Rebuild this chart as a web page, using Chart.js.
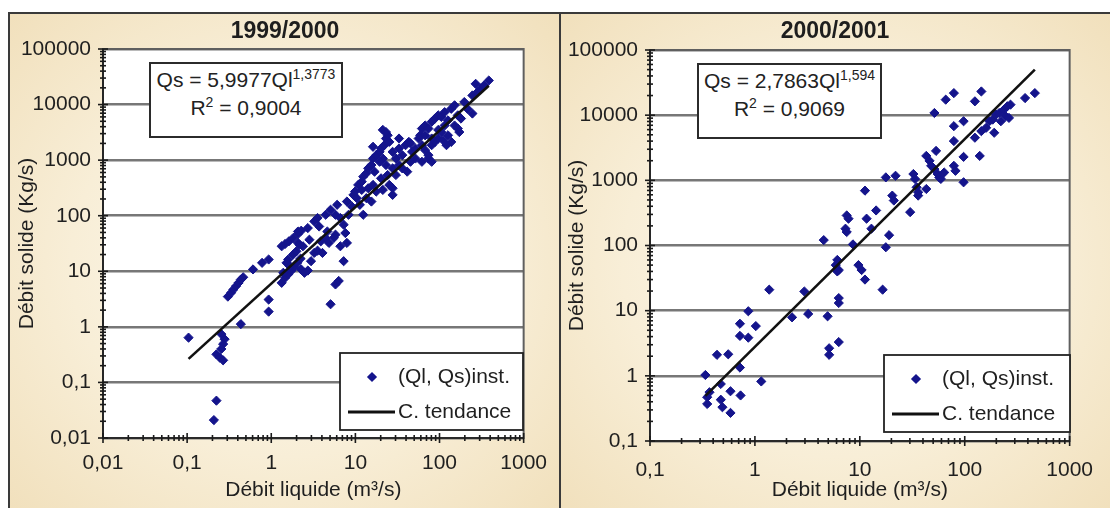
<!DOCTYPE html>
<html lang="fr">
<head>
<meta charset="utf-8">
<title>Débit solide en fonction du débit liquide</title>
<script src="https://cdn.jsdelivr.net/npm/chart.js@4.4.1/dist/chart.umd.min.js"></script>
<style>
  html, body { margin: 0; padding: 0; }
  body { width: 1110px; height: 508px; position: relative; overflow: hidden; background: #fff;
         font-family: "Liberation Sans", Arial, Helvetica, sans-serif; color: #222; }
  .panel { position: absolute; top: 12px; height: 500px; box-sizing: border-box;
           border-top: 2px solid #3a3a3a;
           background: radial-gradient(ellipse at center, #fdf9f0 0%, #f8eed7 55%, #f1e0bc 100%); }
  #panelA { left: 8px; width: 553px; border-left: 2px solid #3a3a3a; border-right: 2px solid #3a3a3a; }
  #panelB { left: 561px; width: 549px; }
  canvas { position: absolute; }
  #chartA { left: 9px; top: 13px; }
  #chartB { left: 560px; top: 13px; }
  .title { position: absolute; top: 16px; width: 300px; margin-left: -150px; text-align: center;
           font-weight: bold; font-size: 23px; line-height: 28px; color: #1e1e1e; }
  .eq { position: absolute; box-sizing: border-box; background: #fff; border: 2px solid #2b2b2b;
        text-align: center; font-size: 21px; line-height: 28px; padding-top: 2px; white-space: nowrap; color: #222; }
  .eq sup { font-size: 14px; vertical-align: 8px; line-height: 0; }
</style>
</head>
<body>
<div class="panel" id="panelA"></div>
<div class="panel" id="panelB"></div>
<canvas id="chartA" width="551" height="495"></canvas>
<canvas id="chartB" width="550" height="495"></canvas>
<div class="title" id="titleA" style="left:285px"></div>
<div class="title" id="titleB" style="left:835px"></div>
<div class="eq" id="eqA" style="left:149px; top:62px; width:194px; height:76px;"></div>
<div class="eq" id="eqB" style="left:697px; top:63px; width:185px; height:76px;"></div>

<script>
// ---- Season 1999/2000 ----
const saisonA = '1999/2000';
// instantaneous measurements [Ql (m3/s), Qs (kg/s)]
const mesuresA = [
  [0.104,0.64],[0.223,0.047],[0.208,0.021],
  [0.255,0.74],[0.279,0.60],[0.268,0.49],[0.255,0.40],[0.223,0.32],[0.244,0.28],[0.268,0.25],
  [0.435,1.12],
  [0.305,3.5],[0.333,4.1],[0.355,4.7],[0.381,5.4],[0.409,6.2],[0.435,7.1],[0.464,7.8],
  [0.607,10.8],[0.778,14.2],[0.931,16.3],[0.931,3.1],[0.931,1.88],
  [1.33,6.2],[1.46,7.6],[1.59,8.8],[1.74,10.3],[1.87,11.9],[2.04,14.2],[2.23,16.9],[2.27,10.8],
  [2.48,9.4],[2.72,10.3],[2.97,15.2],[1.59,16.3],[1.82,20],[1.99,22.9],[2.38,28.2],[2.08,32.4],
  [1.33,28.2],[1.46,31],[1.62,34.6],[1.82,39.7],[2.08,46.9],[2.27,53.7],[3.24,21.4],[3.55,23.5],
  [3.88,34.6],[4.44,39.7],[4.85,32.4],[5.8,45.6],[6.63,28.2],[7.93,32.4],[7.6,48.8],[5.07,2.55],
  [5.8,5.8],[6.34,6.7],[7.25,15.2],[1.52,14.2],[1.66,12.4],[1.39,9.4],
  [2.08,52],[2.17,30],[2.72,60],[2.84,37],[3.25,79],[3.55,91],[3.71,64],[4.06,21.4],[4.44,104],
  [4.64,52],[5.07,128],[5.55,40],[5.8,104],[6.07,157],[6.63,91],[7.25,69],[7.93,180],[8.29,104],
  [9.06,147],[9.48,237],[10.4,207],[11.3,157],[11.9,291],[12.4,104],[13.5,207],[14.2,312],
  [15.5,180],[16.2,358],[17.7,272],
  [9.91,272],[10.8,358],[11.9,410],[12.4,505],[13.5,578],[14.2,711],[15.5,816],[16.2,1070],
  [17.7,1230],[19.4,1410],[20.2,1620],[21.2,1070],[23.1,816],[24.2,540],[25.3,358],[27.7,237],
  [22.1,1860],[23.1,2450],[24.2,2800],[25.3,2130],[27.7,1410],[30.3,1070],[33,1620],[36.1,1230],
  [39.5,1860],[43.2,2130],[45.2,935],[47.2,1410],[51.7,1620],[56.5,2450],[59,2800],[61.8,3700],
  [67.5,4200],[27.7,711],[30.3,540],[33,816],[16.2,1740],[21.2,3500],[23.1,3200],[33,2450],
  [45.2,2000],[16.9,620],[19.4,935],[20.2,471],[21.2,291],[27.7,312],[36.1,711],[41.3,620],
  [51.7,1070],[61.8,935],[73.8,1070],[80.7,935],
  [67.5,2800],[73.8,3700],[80.7,4900],[88.3,5600],[96.6,6400],[105,6000],[115,7300],[126,5200],
  [138,8400],[151,4200],[165,3700],[172,3200],[180,5600],[80.7,1860],[88.3,2130],[96.6,2450],
  [105,3200],[126,2800],[138,2130],[197,11100],[215,8400],[246,6900],[246,14600],[282,16700],
  [308,19200],[337,22000],[385,27100],[269,23600],[151,9700],[165,6400],[115,4200],[96.6,3500],
  [110,2300],[121,1860],[80.7,2450],[61.8,1860],[67.5,1510],[73.8,1230]
];
// power trend Qs = a·Ql^b and its coefficient of determination
const coefA = 5.9977, expoA = 1.3773, r2A = 0.9004;
const trendQlA = [0.104, 385];
const xTicksA = [0.01, 0.1, 1, 10, 100, 1000];
const xLabelsA = ['0,01', '0,1', '1', '10', '100', '1000'];
const yTicksA = [0.01, 0.1, 1, 10, 100, 1000, 10000, 100000];
const yLabelsA = ['0,01', '0,1', '1', '10', '100', '1000', '10000', '100000'];

// ---- Season 2000/2001 ----
const saisonB = '2000/2001';
const mesuresB = [
  [4.53,121],[8.6,104],[6.1,60],[5.9,50],[6.3,42],[6.1,40],[9.7,50],[10.4,42],[11.2,30],[16.5,21],
  [1.37,21],[2.96,19.7],[6.3,15.6],[6.3,13.1],[0.865,9.8],[2.26,7.9],[3.22,8.9],[4.93,8.2],
  [0.72,6.3],[1.02,5.8],[0.72,4.1],[0.865,3.85],[6.3,3.3],[5.1,2.65],[5.1,2.1],[0.435,2.1],
  [0.557,2.14],[0.72,1.34],[0.337,1.03],[1.15,0.82],[0.473,0.75],[0.369,0.56],[0.351,0.47],
  [0.351,0.37],[0.585,0.58],[0.473,0.43],[0.49,0.33],[0.585,0.27],[0.73,0.50],
  [7.5,289],[7.8,258],[7.3,181],[7.5,161],[11.2,695],[11.6,258],[12.9,181],[14.3,345],[17.7,1110],
  [21.9,1175],[19,144],[17.7,94],[20.4,583],[21.1,490],[30.2,325],[32.4,1250],[33.6,1050],
  [34.8,782],[36,583],[36,656],[43,736],[43,2370],[46.2,1990],[47.9,1670],[51.4,1490],[55.2,1250],
  [57.2,1110],[59.2,1050],[53.3,2830],[63.7,1320],[78.8,1670],[81.6,1400],[97.5,933],[97.5,2290],
  [78.8,4010],[78.8,6780],[97.5,8070],[65.9,17300],[78.8,21800],[51.4,10800],[125,16300],
  [144,23100],[139,2370],[125,4510],[144,5690],[160,6400],[172,8070],[185,8570],[191,5370],
  [199,10200],[213,10800],[237,12200],[255,13700],[273,14500],[221,8070],[376,18300],[466,21800],
  [245,9640],[264,9080]
];
const coefB = 2.7863, expoB = 1.594, r2B = 0.9069;
const trendQlB = [0.337, 466];
const xTicksB = [0.1, 1, 10, 100, 1000];
const xLabelsB = ['0,1', '1', '10', '100', '1000'];
const yTicksB = [0.1, 1, 10, 100, 1000, 10000, 100000];
const yLabelsB = ['0,1', '1', '10', '100', '1000', '10000', '100000'];

// ---- shared text ----
const serieLabel = '(Ql, Qs)inst.';
const trendLabel = 'C. tendance';
const xTitle = 'Débit liquide (m³/s)';
const yTitle = 'Débit solide (Kg/s)';

const FONT = '"Liberation Sans", Arial, Helvetica, sans-serif';
const FS = 21;
const NAVY = '#14148c';
const INK = '#1f1f1f';
Chart.defaults.font.family = FONT;
Chart.defaults.color = INK;

const fr = v => String(v).replace('.', ',');
const labelFor = (values, labels) => v => {
  const i = values.findIndex(t => Math.abs(Math.log10(t) - Math.log10(v)) < 1e-6);
  return i >= 0 ? labels[i] : '';
};

// White plot area, its frame, and cross tick marks on both axes
const plotFrame = {
  id: 'plotFrame',
  beforeDraw(chart) {
    const { ctx, chartArea: a } = chart;
    ctx.save();
    ctx.fillStyle = '#ffffff';
    ctx.fillRect(a.left, a.top, a.right - a.left, a.bottom - a.top);
    ctx.restore();
  },
  beforeDatasetsDraw(chart) {
    const { ctx, chartArea: a, scales } = chart;
    ctx.save();
    ctx.strokeStyle = '#5f5f5f';
    ctx.lineWidth = 2;
    ctx.strokeRect(a.left, a.top, a.right - a.left, a.bottom - a.top);
    ctx.strokeStyle = '#1a1a1a';
    ctx.lineWidth = 1.6;
    ctx.beginPath();
    ctx.moveTo(a.left, a.top);
    ctx.lineTo(a.left, a.bottom);
    ctx.lineTo(a.right, a.bottom);
    ctx.stroke();
    const marks = (scale, horizontal) => {
      const lo = Math.floor(Math.log10(scale.min));
      const hi = Math.ceil(Math.log10(scale.max));
      for (let k = lo; k <= hi; k++) {
        for (let m = 1; m <= 9; m++) {
          const v = m * Math.pow(10, k);
          if (v < scale.min * 0.999 || v > scale.max * 1.001) continue;
          const p = scale.getPixelForValue(v);
          const h = m === 1 ? 5 : 3;
          ctx.beginPath();
          if (horizontal) { ctx.moveTo(p, a.bottom - h); ctx.lineTo(p, a.bottom + h); }
          else { ctx.moveTo(a.left - h, p); ctx.lineTo(a.left + h, p); }
          ctx.stroke();
        }
      }
    };
    marks(scales.x, true);
    marks(scales.y, false);
    ctx.restore();
  }
};

// Boxed legend in the lower right corner of the plot
const boxLegend = {
  id: 'boxLegend',
  afterDatasetsDraw(chart, args, o) {
    const { ctx } = chart;
    const [pts, trend] = chart.data.datasets;
    ctx.save();
    ctx.fillStyle = '#ffffff';
    ctx.fillRect(o.x, o.y, o.w, o.h);
    ctx.strokeStyle = '#222';
    ctx.lineWidth = 1.8;
    ctx.strokeRect(o.x, o.y, o.w, o.h);
    const r = pts.pointRadius + 0.5;
    const mx = o.x + 32, my = o.y + 24;
    ctx.fillStyle = pts.pointBackgroundColor;
    ctx.beginPath();
    ctx.moveTo(mx, my - r); ctx.lineTo(mx + r, my); ctx.lineTo(mx, my + r); ctx.lineTo(mx - r, my);
    ctx.closePath();
    ctx.fill();
    ctx.strokeStyle = trend.borderColor;
    ctx.lineWidth = 3;
    ctx.beginPath();
    ctx.moveTo(o.x + 8, o.y + 59);
    ctx.lineTo(o.x + 55, o.y + 59);
    ctx.stroke();
    ctx.fillStyle = INK;
    ctx.font = FS + 'px ' + FONT;
    ctx.textBaseline = 'middle';
    ctx.textAlign = 'left';
    ctx.fillText(pts.label, o.x + 58, o.y + 24);
    ctx.fillText(trend.label, o.x + 58, o.y + 59);
    ctx.restore();
  }
};

function buildChart(id, s) {
  return new Chart(document.getElementById(id), {
    type: 'scatter',
    data: {
      datasets: [
        {
          label: serieLabel,
          data: s.points.map(([x, y]) => ({ x, y })),
          pointStyle: 'rectRot',
          pointRadius: 4.6,
          pointBackgroundColor: NAVY,
          pointBorderColor: NAVY,
          pointBorderWidth: 1,
          order: 2
        },
        {
          label: trendLabel,
          data: s.trendQl.map(x => ({ x, y: s.coef * Math.pow(x, s.expo) })),
          showLine: true,
          borderColor: '#111111',
          borderWidth: 2.6,
          pointRadius: 0,
          tension: 0,
          order: 1
        }
      ]
    },
    options: {
      responsive: false,
      animation: false,
      devicePixelRatio: 1,
      events: [],
      layout: { padding: { left: 0, top: s.padTop, right: s.padRight, bottom: 0 } },
      plugins: {
        legend: { display: false },
        tooltip: { enabled: false },
        title: { display: false },
        boxLegend: s.legend
      },
      scales: {
        x: {
          type: 'logarithmic',
          min: s.xTicks[0],
          max: s.xTicks[s.xTicks.length - 1],
          afterBuildTicks: sc => { sc.ticks = s.xTicks.map(v => ({ value: v, major: true })); },
          afterFit: sc => { sc.height = s.xHeight; },
          ticks: { autoSkip: false, maxRotation: 0, minRotation: 0, padding: s.xPad, color: INK,
                   font: { size: FS }, callback: labelFor(s.xTicks, s.xLabels) },
          grid: { display: false, drawTicks: false },
          border: { display: false },
          title: { display: true, text: xTitle, color: INK, font: { size: FS },
                   padding: { top: 0, bottom: 5 } }
        },
        y: {
          type: 'logarithmic',
          min: s.yTicks[0],
          max: s.yTicks[s.yTicks.length - 1],
          afterBuildTicks: sc => { sc.ticks = s.yTicks.map(v => ({ value: v, major: true })); },
          afterFit: sc => { sc.width = s.yWidth; },
          ticks: { autoSkip: false, padding: 12, color: INK, font: { size: FS },
                   callback: labelFor(s.yTicks, s.yLabels) },
          grid: { color: '#777777', lineWidth: 2.5, drawTicks: false },
          border: { display: false },
          title: { display: true, text: yTitle, color: INK, font: { size: FS },
                   padding: { top: s.yTitlePad, bottom: 0 } }
        }
      }
    },
    plugins: [plotFrame, boxLegend]
  });
}

buildChart('chartA', {
  points: mesuresA, coef: coefA, expo: expoA, trendQl: trendQlA,
  xTicks: xTicksA, xLabels: xLabelsA, yTicks: yTicksA, yLabels: yLabelsA,
  padTop: 36, padRight: 25, xHeight: 70, yWidth: 94, xPad: 13, yTitlePad: 6,
  legend: { x: 331, y: 340, w: 183, h: 77 }
});
buildChart('chartB', {
  points: mesuresB, coef: coefB, expo: expoB, trendQl: trendQlB,
  xTicks: xTicksB, xLabels: xLabelsB, yTicks: yTicksB, yLabels: yLabelsB,
  padTop: 37, padRight: 28, xHeight: 67, yWidth: 90, xPad: 17, yTitlePad: 5,
  legend: { x: 324, y: 342, w: 186, h: 77 }
});

document.getElementById('titleA').textContent = saisonA;
document.getElementById('titleB').textContent = saisonB;
document.getElementById('eqA').innerHTML =
  '<div>Qs = ' + fr(coefA) + 'Ql<sup>' + fr(expoA) + '</sup></div><div>R<sup>2</sup> = ' + fr(r2A) + '</div>';
document.getElementById('eqB').innerHTML =
  '<div>Qs = ' + fr(coefB) + 'Ql<sup>' + fr(expoB) + '</sup></div><div>R<sup>2</sup> = ' + fr(r2B) + '</div>';
</script>
</body>
</html>
